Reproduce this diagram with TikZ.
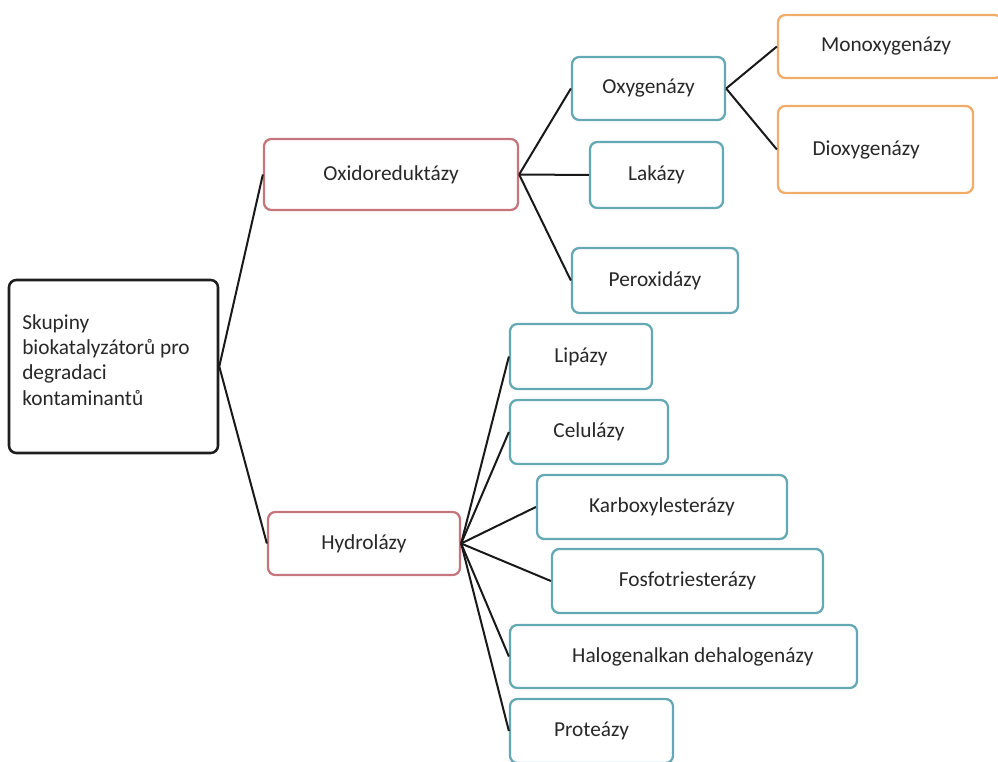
\documentclass[tikz,border=0pt]{standalone}
\usepackage{fontspec}
\setmainfont{Carlito}
\definecolor{rootc}{RGB}{30,30,30}
\definecolor{redc}{RGB}{196,118,124}
\definecolor{tealc}{RGB}{100,168,180}
\definecolor{orangec}{RGB}{240,172,105}
\definecolor{txt}{RGB}{40,40,40}
\tikzset{
  box/.style={draw, rounded corners=5.5pt, line width=1.7pt, fill=white, inner sep=0pt,
    font=\fontsize{16pt}{19pt}\selectfont, text=txt, align=center},
  rootbox/.style={box, draw=rootc, line width=1.9pt},
  redbox/.style={box, draw=redc},
  tealbox/.style={box, draw=tealc},
  orangebox/.style={box, draw=orangec},
  conn/.style={draw=black!90, line width=1.5pt},
}
\begin{document}
\begin{tikzpicture}[x=0.75pt,y=-0.75pt]
\useasboundingbox (0,0) rectangle (998,762);
\clip (0,0) rectangle (998,762);
% boxes
\node[rootbox, minimum width=156.75pt, minimum height=129.75pt] (root) at (113.5,366.5) {};
\node[anchor=west, font=\fontsize{16pt}{19pt}\selectfont, text=txt, align=left, inner sep=0pt] (roottext) at (22,360) {Skupiny\\biokatalyzátorů pro\\degradaci\\kontaminantů};
\node[redbox, minimum width=190.5pt, minimum height=53.25pt] (oxido) at (391,174.5) {Oxidoreduktázy};
\node[redbox, minimum width=144pt, minimum height=47.25pt] (hydro) at (364,543.5) {Hydrolázy};
\node[tealbox, minimum width=114.75pt, minimum height=47.25pt] (oxyg) at (648.5,88.5) {Oxygenázy};
\node[tealbox, minimum width=99.75pt, minimum height=49.5pt] (lak) at (656.5,175) {Lakázy};
\node[tealbox, minimum width=124.5pt, minimum height=48.75pt] (perox) at (655,280.5) {Peroxidázy};
\node[orangebox, minimum width=168pt, minimum height=47.25pt] (mono) at (890,46.5) {\hspace*{-6pt}Monoxygenázy};
\node[orangebox, minimum width=146.25pt, minimum height=65.25pt] (dioxy) at (875.5,149.5) {\hspace*{-14pt}Dioxygenázy};
\node[tealbox, minimum width=106.5pt, minimum height=48.75pt] (lip) at (581,356.5) {Lipázy};
\node[tealbox, minimum width=118.5pt, minimum height=48pt] (cel) at (589,432) {Celulázy};
\node[tealbox, minimum width=187.5pt, minimum height=48pt] (karb) at (662,507) {Karboxylesterázy};
\node[tealbox, minimum width=203.25pt, minimum height=48pt] (fosf) at (687.5,581) {Fosfotriesterázy};
\node[tealbox, minimum width=260.25pt, minimum height=47.25pt] (halo) at (683.5,656.5) {\hspace*{14pt}Halogenalkan dehalogenázy};
\node[tealbox, minimum width=122.25pt, minimum height=48pt] (prot) at (591.5,731) {Proteázy};
% connectors
\draw[conn] (root.east) -- (oxido.west);
\draw[conn] (root.east) -- (hydro.west);
\draw[conn] (oxido.east) -- (oxyg.west);
\draw[conn] (oxido.east) -- (lak.west);
\draw[conn] (oxido.east) -- (perox.west);
\draw[conn] (oxyg.east) -- (mono.west);
\draw[conn] (oxyg.east) -- (dioxy.west);
\foreach \t in {lip,cel,karb,fosf,halo,prot}
  \draw[conn] (hydro.east) -- (\t.west);
\end{tikzpicture}
\end{document}
